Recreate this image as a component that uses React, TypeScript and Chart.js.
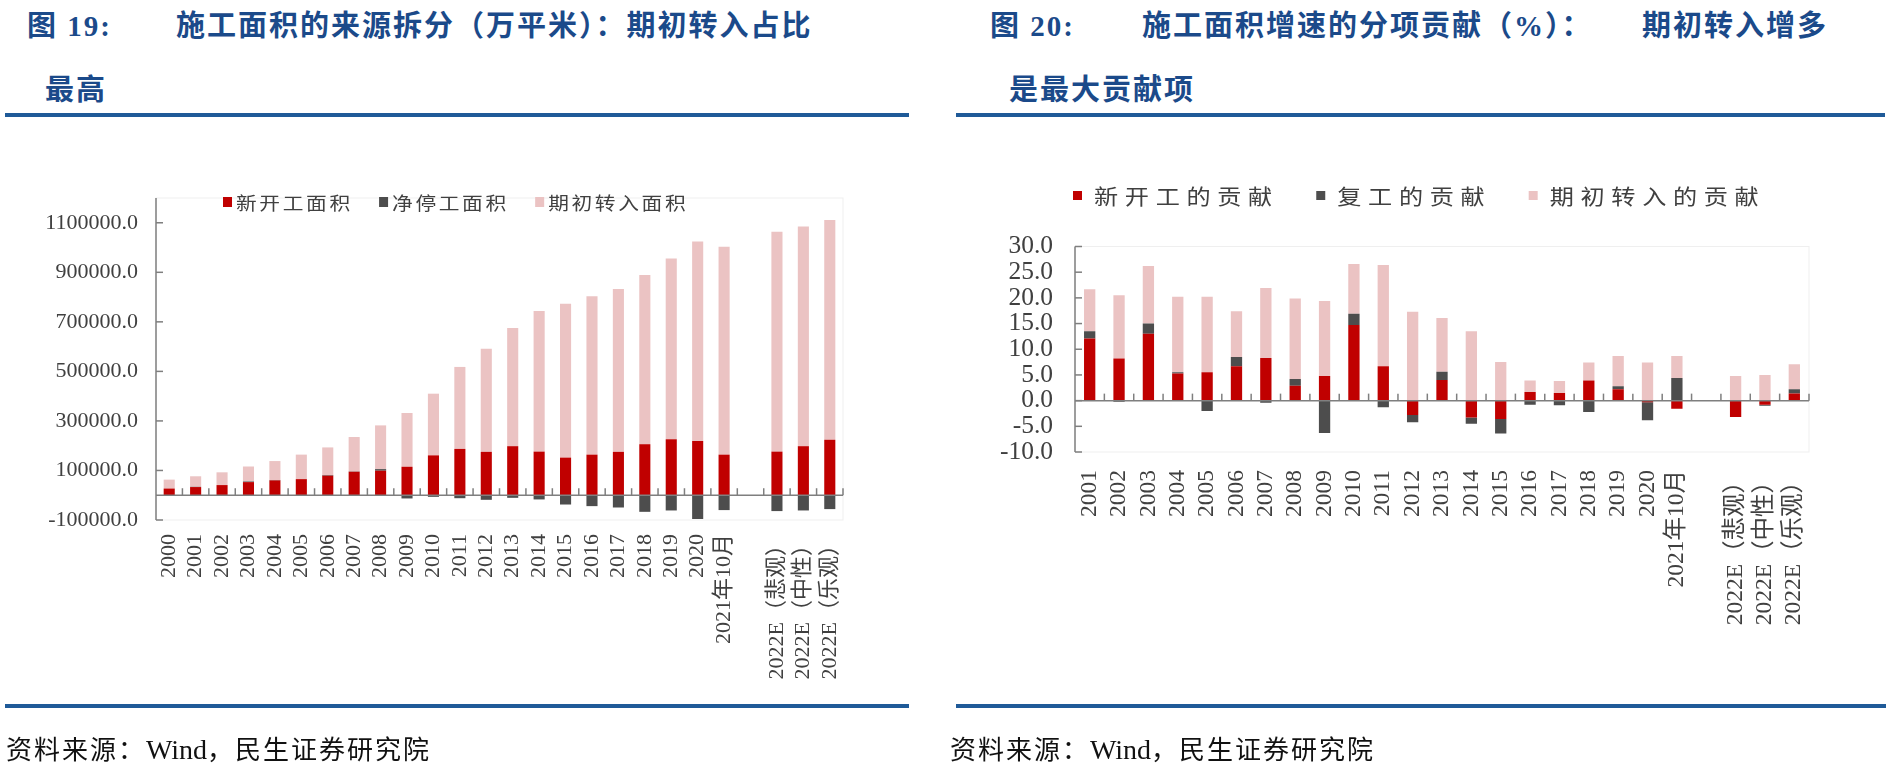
import React, { useEffect, useRef } from "react";
import { Chart, registerables } from "chart.js";

Chart.register(...registerables);

const PAGE_W = 1891;
const PAGE_H = 772;

// ---------------- Figure 19 data (万平米) ----------------
const leftCategories = [
  "2000", "2001", "2002", "2003", "2004", "2005", "2006", "2007", "2008", "2009",
  "2010", "2011", "2012", "2013", "2014", "2015", "2016", "2017", "2018", "2019",
  "2020", "2021年10月", "", "2022E（悲观）", "2022E（中性）", "2022E（乐观）",
];
const leftNewStarts = [
  27000, 33000, 41000, 53000, 60000, 65000, 79000, 95000, 99000, 115000,
  161000, 187000, 175000, 198000, 176000, 152000, 164000, 175000, 206000, 226000,
  219000, 164000, null, 176000, 198000, 224000,
];
const leftNetStops = [
  0, 1000, 0, 2500, 1500, 0, 2500, 1000, 6500, -13000,
  -6500, -12000, -18500, -10500, -17000, -37500, -44000, -49500, -67000, -61500,
  -96000, -60000, null, -64000, -61500, -56000,
];
const leftCarryOver = [
  36000, 42500, 51500, 60500, 76500, 99000, 111500, 139000, 176500, 217000,
  249000, 331000, 416000, 477000, 568000, 621000, 639000, 658000, 683500, 729500,
  805000, 839000, null, 887500, 887000, 887000,
];
const leftSeriesNames = ["新开工面积", "净停工面积", "期初转入面积"];
const leftTicks = [-100000, 100000, 300000, 500000, 700000, 900000, 1100000];
const leftMin = -100000;
const leftMax = 1200000;

// ---------------- Figure 20 data (%) ----------------
const rightCategories = [
  "2001", "2002", "2003", "2004", "2005", "2006", "2007", "2008", "2009", "2010",
  "2011", "2012", "2013", "2014", "2015", "2016", "2017", "2018", "2019", "2020",
  "2021年10月", "", "2022E（悲观）", "2022E（中性）", "2022E（乐观）",
];
const rightNewStarts = [
  12.1, 8.2, 13.0, 5.3, 5.5, 6.7, 8.3, 2.9, 4.8, 14.7,
  6.7, -2.8, 4.0, -3.3, -3.6, 1.7, 1.5, 3.9, 2.2, -0.3,
  -1.6, null, -3.2, -0.8, 1.4,
];
const rightResumes = [
  1.4, -0.2, 2.0, 0.2, -2.0, 1.8, -0.4, 1.3, -6.3, 2.2,
  -1.3, -1.4, 1.6, -1.2, -2.8, -0.8, -0.9, -2.2, 0.6, -3.5,
  4.4, null, 0, -0.2, 0.8,
];
const rightCarryOver = [
  8.2, 12.3, 11.2, 14.7, 14.7, 8.9, 13.6, 15.7, 14.6, 9.7,
  19.7, 17.3, 10.5, 13.5, 7.5, 2.2, 2.3, 3.5, 5.9, 7.4,
  4.3, null, 4.8, 5.0, 4.9,
];
const rightSeriesNames = ["新开工的贡献", "复工的贡献", "期初转入的贡献"];
const rightTicks = [-10, -5, 0, 5, 10, 15, 20, 25, 30];
const rightMin = -10;
const rightMax = 30;

// ---------------- styles ----------------
const RED = "#C00000";
const DARK = "#4D4D4D";
const PINK = "#EBC3C3";
const AXIS = "#7F7F7F";
const LABEL = "#404040";
const BLUE_TEXT = "#1B4A8A";
const BLUE_LINE = "#1F5A98";
const SERIF = "'Liberation Serif', 'Noto Sans CJK SC', serif";
const CJK = "'Noto Sans CJK SC', sans-serif";

type Area = { left: number; right: number; top: number; bottom: number };
type LegendSpec = {
  x: number; y: number; fontSize: number; scaleX: number; spacing: number;
  boxW: number; boxH: number; gap: number; itemGap: number;
};
type Spec = {
  categories: string[];
  series: { name: string; data: (number | null)[]; color: string }[];
  min: number; max: number; ticks: number[];
  area: Area; barPct: number; yAxisW: number;
  yFont: number; yPad: number; xFont: number; xPad: number;
  legend: LegendSpec;
};

function buildChart(canvas: HTMLCanvasElement, spec: Spec) {
  const yAxisW = spec.yAxisW;
  const xAxisH = 180;
  const decor = {
    id: "decor",
    afterDatasetsDraw(chart: any) {
      const { ctx, chartArea } = chart;
      const xs = chart.scales.x;
      const ys = chart.scales.y;
      ctx.save();
      // faint plot frame
      ctx.strokeStyle = "#EFEFEF";
      ctx.lineWidth = 1;
      ctx.strokeRect(chartArea.left, chartArea.top, chartArea.right - chartArea.left, chartArea.bottom - chartArea.top);
      ctx.strokeStyle = AXIS;
      ctx.lineWidth = 1.5;
      // y axis line
      ctx.beginPath();
      ctx.moveTo(chartArea.left, chartArea.top);
      ctx.lineTo(chartArea.left, chartArea.bottom);
      ctx.stroke();
      // inward y ticks
      spec.ticks.forEach((v) => {
        const y = ys.getPixelForValue(v);
        ctx.beginPath();
        ctx.moveTo(chartArea.left, y);
        ctx.lineTo(chartArea.left + 7, y);
        ctx.stroke();
      });
      // zero line
      const y0 = ys.getPixelForValue(0);
      ctx.beginPath();
      ctx.moveTo(chartArea.left, y0);
      ctx.lineTo(chartArea.right, y0);
      ctx.stroke();
      // category boundary ticks (pointing up)
      const n = spec.categories.length;
      const step = xs.getPixelForValue(1) - xs.getPixelForValue(0);
      for (let i = 0; i < n; i++) {
        const bx = xs.getPixelForValue(i) + step / 2;
        ctx.beginPath();
        ctx.moveTo(bx, y0);
        ctx.lineTo(bx, y0 - 7);
        ctx.stroke();
      }
      ctx.restore();
    },
    afterDraw(chart: any) {
      const { ctx } = chart;
      const L = spec.legend;
      ctx.save();
      ctx.font = `${L.fontSize}px ${CJK}`;
      (ctx as any).letterSpacing = `${L.spacing}px`;
      ctx.textBaseline = "middle";
      ctx.textAlign = "left";
      let x = L.x;
      chart.data.datasets.forEach((ds: any) => {
        ctx.fillStyle = ds.backgroundColor;
        ctx.fillRect(x, L.y - L.boxH / 2, L.boxW, L.boxH);
        x += L.boxW + L.gap;
        ctx.fillStyle = LABEL;
        ctx.save();
        ctx.translate(x, L.y + 1);
        ctx.scale(L.scaleX, 1);
        ctx.fillText(ds.label, 0, 0);
        ctx.restore();
        const w = (ctx.measureText(ds.label).width - L.spacing) * L.scaleX;
        x += w + L.itemGap;
      });
      ctx.restore();
    },
  };

  return new Chart(canvas, {
    type: "bar",
    data: {
      labels: spec.categories,
      datasets: spec.series.map((s) => ({
        label: s.name,
        data: s.data as any,
        backgroundColor: s.color,
        borderWidth: 0,
        categoryPercentage: 1,
        barPercentage: spec.barPct,
      })),
    },
    options: {
      responsive: false,
      animation: false,
      devicePixelRatio: 1,
      layout: {
        padding: {
          left: spec.area.left - yAxisW,
          right: PAGE_W - spec.area.right,
          top: spec.area.top,
          bottom: PAGE_H - spec.area.bottom - xAxisH,
        },
      },
      plugins: { legend: { display: false }, tooltip: { enabled: false } },
      scales: {
        x: {
          stacked: true,
          offset: true,
          grid: { display: false, drawTicks: false },
          border: { display: false },
          ticks: {
            autoSkip: false,
            minRotation: 90,
            maxRotation: 90,
            padding: spec.xPad,
            color: LABEL,
            font: { family: SERIF, size: spec.xFont },
          },
          afterFit: (s: any) => { s.height = xAxisH; },
        } as any,
        y: {
          stacked: true,
          min: spec.min,
          max: spec.max,
          grid: { display: false, drawTicks: false },
          border: { display: false },
          afterBuildTicks: (s: any) => { s.ticks = spec.ticks.map((v) => ({ value: v })); },
          ticks: {
            autoSkip: false,
            padding: spec.yPad,
            color: LABEL,
            font: { family: SERIF, size: spec.yFont },
            callback: (v: any) => Number(v).toFixed(1),
          },
          afterFit: (s: any) => { s.width = yAxisW; },
        } as any,
      },
    },
    plugins: [decor],
  });
}

const leftSpec: Spec = {
  categories: leftCategories,
  series: [
    { name: leftSeriesNames[0], data: leftNewStarts, color: RED },
    { name: leftSeriesNames[1], data: leftNetStops, color: DARK },
    { name: leftSeriesNames[2], data: leftCarryOver, color: PINK },
  ],
  min: leftMin, max: leftMax, ticks: leftTicks,
  area: { left: 156, right: 843, top: 198, bottom: 520 },
  barPct: 0.42, yAxisW: 150,
  yFont: 22, yPad: 18, xFont: 22, xPad: 14,
  legend: { x: 223, y: 202, fontSize: 18, scaleX: 1.15, spacing: 2.3, boxW: 9, boxH: 10, gap: 4, itemGap: 29 },
};

const rightSpec: Spec = {
  categories: rightCategories,
  series: [
    { name: rightSeriesNames[0], data: rightNewStarts, color: RED },
    { name: rightSeriesNames[1], data: rightResumes, color: DARK },
    { name: rightSeriesNames[2], data: rightCarryOver, color: PINK },
  ],
  min: rightMin, max: rightMax, ticks: rightTicks,
  area: { left: 1075, right: 1809, top: 246.5, bottom: 452 },
  barPct: 0.385, yAxisW: 120,
  yFont: 25.5, yPad: 22, xFont: 23.5, xPad: 18,
  legend: { x: 1073, y: 195.5, fontSize: 21, scaleX: 1.15, spacing: 5.8, boxW: 9, boxH: 9, gap: 12, itemGap: 44 },
};

function ChartCanvas({ spec }: { spec: Spec }) {
  const ref = useRef<HTMLCanvasElement | null>(null);
  useEffect(() => {
    if (!ref.current) return;
    const chart = buildChart(ref.current, spec);
    return () => chart.destroy();
  }, [spec]);
  return (
    <canvas
      ref={ref}
      width={PAGE_W}
      height={PAGE_H}
      style={{ position: "absolute", left: 0, top: 0, width: PAGE_W, height: PAGE_H }}
    />
  );
}

const titleBase: React.CSSProperties = {
  position: "absolute",
  whiteSpace: "nowrap",
  fontFamily: SERIF,
  fontWeight: 700,
  fontSize: 29,
  lineHeight: "29px",
  color: BLUE_TEXT,
  letterSpacing: 2,
};

const footerBase: React.CSSProperties = {
  position: "absolute",
  whiteSpace: "nowrap",
  fontFamily: SERIF,
  fontSize: 26,
  lineHeight: "26px",
  color: "#111111",
};

function Footer({ x }: { x: number }) {
  return (
    <div style={{ ...footerBase, left: x, top: 737 }}>
      <span style={{ letterSpacing: 2 }}>资料来源：</span>
      <span style={{ fontSize: 28 }}>Wind</span>
      <span style={{ letterSpacing: 2 }}>，民生证券研究院</span>
    </div>
  );
}

function Rule({ x, y, w }: { x: number; y: number; w: number }) {
  return <div style={{ position: "absolute", left: x, top: y, width: w, height: 4, background: BLUE_LINE }} />;
}

export default function App() {
  return (
    <div
      style={{
        position: "absolute",
        left: 0,
        top: 0,
        width: PAGE_W,
        height: PAGE_H,
        background: "#FFFFFF",
        overflow: "hidden",
      }}
    >
      {/* Figure 19 title */}
      <div style={{ ...titleBase, left: 27, top: 12 }}>图 19:</div>
      <div style={{ ...titleBase, left: 176, top: 12 }}>施工面积的来源拆分（万平米）：期初转入占比</div>
      <div style={{ ...titleBase, left: 45, top: 76 }}>最高</div>
      <Rule x={5} y={113} w={904} />

      {/* Figure 20 title */}
      <div style={{ ...titleBase, left: 990, top: 12 }}>图 20:</div>
      <div style={{ ...titleBase, left: 1142, top: 12 }}>施工面积增速的分项贡献（%）：</div>
      <div style={{ ...titleBase, left: 1642, top: 12 }}>期初转入增多</div>
      <div style={{ ...titleBase, left: 1009, top: 76 }}>是最大贡献项</div>
      <Rule x={956} y={113} w={929} />

      <ChartCanvas spec={leftSpec} />
      <ChartCanvas spec={rightSpec} />

      <Rule x={5} y={704} w={904} />
      <Rule x={956} y={704} w={930} />
      <Footer x={6} />
      <Footer x={950} />
    </div>
  );
}
